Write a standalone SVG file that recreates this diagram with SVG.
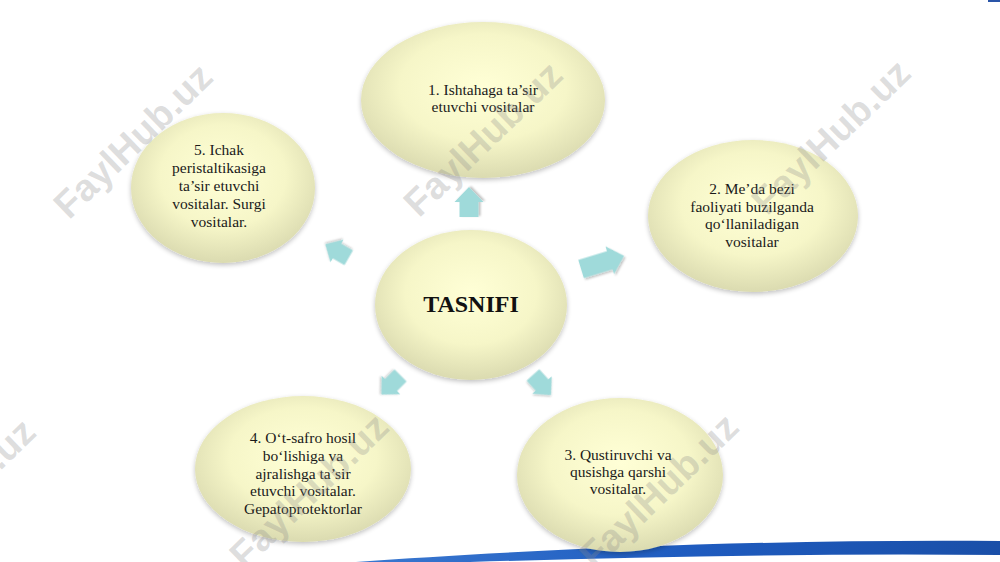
<svg xmlns="http://www.w3.org/2000/svg" width="1000" height="562" viewBox="0 0 1000 562">
  <style>
    .node { fill: url(#nodeFill); filter: url(#soft); }
    .lbl { font-family: "Liberation Serif", "Times New Roman", serif; font-size: 15.5px; fill: #1a1a1a; text-anchor: middle; }
    .title { font-family: "Liberation Serif", "Times New Roman", serif; font-size: 24px; font-weight: bold; fill: #111; text-anchor: middle; }
    .arrow { fill: #9fdada; filter: url(#ashadow); }
    .wm { font-family: "Liberation Sans", Arial, sans-serif; font-size: 38px; font-weight: bold; fill: #8a8a8a; fill-opacity: 0.28; text-anchor: middle; }
  </style>
  <defs>
    <radialGradient id="nodeFill" cx="50%" cy="42%" r="62%">
      <stop offset="0" stop-color="#ffffd6"/>
      <stop offset="0.55" stop-color="#f6f6c8"/>
      <stop offset="1" stop-color="#d6d6ac"/>
    </radialGradient>
    <linearGradient id="swoosh" x1="0" y1="0" x2="1" y2="0">
      <stop offset="0" stop-color="#3a78d0"/>
      <stop offset="0.5" stop-color="#1f5cc0"/>
      <stop offset="1" stop-color="#1a4fa8"/>
    </linearGradient>
    <filter id="soft" x="-10%" y="-10%" width="120%" height="125%">
      <feGaussianBlur in="SourceAlpha" stdDeviation="2.5"/>
      <feOffset dy="2" result="b"/>
      <feComponentTransfer><feFuncA type="linear" slope="0.25"/></feComponentTransfer>
      <feMerge><feMergeNode/><feMergeNode in="SourceGraphic"/></feMerge>
    </filter>
    <filter id="ashadow" x="-30%" y="-30%" width="160%" height="160%">
      <feGaussianBlur in="SourceAlpha" stdDeviation="1.2"/>
      <feOffset dx="1" dy="1.5"/>
      <feComponentTransfer><feFuncA type="linear" slope="0.25"/></feComponentTransfer>
      <feMerge><feMergeNode/><feMergeNode in="SourceGraphic"/></feMerge>
    </filter>
    <path id="blk" d="M -15 -9.5 L 0 -9.5 L 0 -14.5 L 15 0 L 0 14.5 L 0 9.5 L -15 9.5 Z"/>
    <path id="blkLong" d="M -24 -9.5 L 6 -9.5 L 6 -14.5 L 21 0 L 6 14.5 L 6 9.5 L -24 9.5 Z"/>
  </defs>

  <rect width="1000" height="562" fill="#ffffff"/>

  <!-- bottom swoosh -->
  <path d="M 356 562 C 520 550, 760 539, 1000 541 L 1000 555 C 820 553, 640 557, 470 562 Z" fill="url(#swoosh)"/>
  <rect x="988" y="0" width="12" height="2" fill="#2a55a8"/>

  <g id="connectors">
    <use href="#blk" class="arrow" transform="translate(469,202) rotate(-90)"/>
    <use href="#blk" class="arrow" transform="translate(337,251) rotate(-150) scale(0.9)"/>
    <use href="#blkLong" class="arrow" transform="translate(604,262) rotate(-17)"/>
    <use href="#blk" class="arrow" transform="translate(391,385) rotate(135) scale(0.9)"/>
    <use href="#blk" class="arrow" transform="translate(542,385) rotate(48) scale(0.9)"/>
  </g>

  <g id="node-1">
    <ellipse class="node" cx="483" cy="100" rx="122" ry="78"/>
    <text class="lbl" x="483" y="95">1. Ishtahaga ta’sir</text>
    <text class="lbl" x="483" y="112">etuvchi vositalar</text>
  </g>

  <g id="node-2">
    <ellipse class="node" cx="753" cy="216" rx="105" ry="76"/>
    <text class="lbl" x="752" y="194">2. Me’da bezi</text>
    <text class="lbl" x="752" y="211.5">faoliyati buzilganda</text>
    <text class="lbl" x="752" y="229">qo‘llaniladigan</text>
    <text class="lbl" x="752" y="246.5">vositalar</text>
  </g>

  <g id="node-3">
    <ellipse class="node" cx="620" cy="475" rx="103" ry="77"/>
    <text class="lbl" x="618" y="460">3. Qustiruvchi va</text>
    <text class="lbl" x="618" y="477">qusishga qarshi</text>
    <text class="lbl" x="618" y="494">vositalar.</text>
  </g>

  <g id="node-4">
    <ellipse class="node" cx="303" cy="469" rx="108" ry="73"/>
    <text class="lbl" x="303" y="443">4. O‘t-safro hosil</text>
    <text class="lbl" x="303" y="460.7">bo‘lishiga va</text>
    <text class="lbl" x="303" y="478.5">ajralishga ta’sir</text>
    <text class="lbl" x="303" y="496.2">etuvchi vositalar.</text>
    <text class="lbl" x="303" y="514">Gepatoprotektorlar</text>
  </g>

  <g id="node-5">
    <ellipse class="node" cx="223" cy="188" rx="92" ry="75"/>
    <text class="lbl" x="219" y="155">5. Ichak</text>
    <text class="lbl" x="219" y="173">peristaltikasiga</text>
    <text class="lbl" x="219" y="191">ta’sir etuvchi</text>
    <text class="lbl" x="219" y="209">vositalar. Surgi</text>
    <text class="lbl" x="219" y="227">vositalar.</text>
  </g>

  <g id="node-center">
    <ellipse class="node" cx="471" cy="305" rx="96" ry="75"/>
    <text class="title" x="471" y="312">TASNIFI</text>
  </g>

  <g id="watermarks">
    <text class="wm" transform="translate(142,150) rotate(-44)">FaylHub.uz</text>
    <text class="wm" transform="translate(492,148) rotate(-44)">FaylHub.uz</text>
    <text class="wm" transform="translate(840,146) rotate(-44)">FaylHub.uz</text>
    <text class="wm" transform="translate(-35,505) rotate(-44)">FaylHub.uz</text>
    <text class="wm" transform="translate(318,500) rotate(-44)">FaylHub.uz</text>
    <text class="wm" transform="translate(668,500) rotate(-44)">FaylHub.uz</text>
  </g>
</svg>
